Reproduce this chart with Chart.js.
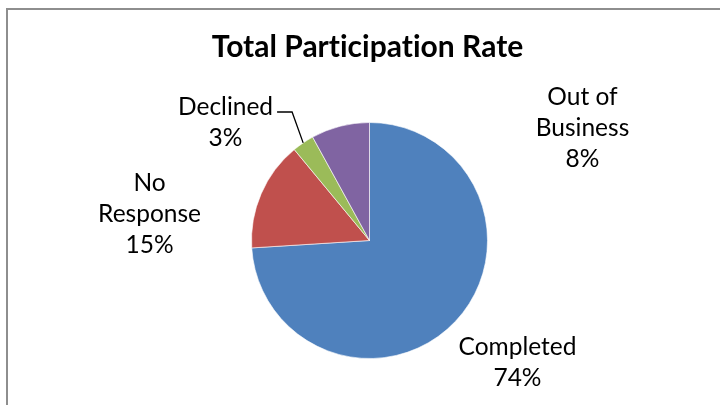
<!DOCTYPE html>
<html>
<head>
<meta charset="utf-8">
<script src="https://cdn.jsdelivr.net/npm/chart.js@4"></script>
<style>
    html, body { margin: 0; padding: 0; background: #fff; }
    #wrap { width: 720px; height: 405px; position: relative; }
</style>
</head>
<body>
<div id="wrap"><canvas id="pieChart" width="720" height="405"></canvas></div>
<script>
// datos del grafico
const chartTitle = "Total Participation Rate";
const categories = ["Completed", "No Response", "Declined", "Out of Business"];
const percentValues = [74, 15, 3, 8];
const sliceColors = ["#4F81BD", "#C0504D", "#9BBB59", "#8064A2"];

// lineas de texto de cada etiqueta
const labelLines = [
    ["Completed", "74%"],
    ["No", "Response", "15%"],
    ["Declined", "3%"],
    ["Out of", "Business", "8%"]
];

// posicion de las etiquetas, en radios desde el centro del pastel
const labelAnchors = [
    { dx: 1.254, dy: 1.034 },
    { dx: -1.864, dy: -0.22 },
    { dx: -1.22, dy: -1.0 },
    { dx: 1.805, dy: -0.955 }
];
const leaderFor = 2; // solo "Declined" lleva linea guia

const FONT = "Lato, 'Open Sans', sans-serif";

const labelPlugin = {
    id: "excelLabels",
    beforeDraw(chart) {
        const ctx = chart.ctx;
        ctx.save();
        // marco del area del grafico
        ctx.strokeStyle = "#8e8e8e";
        ctx.lineWidth = 2;
        ctx.strokeRect(7, 9, 760, 460);
        // titulo (sin ligaduras)
        ctx.fillStyle = "#000";
        ctx.font = "bold 30px " + FONT;
        ctx.letterSpacing = "0.01px";
        ctx.textAlign = "center";
        ctx.textBaseline = "alphabetic";
        ctx.fillText(chartTitle, chart.chartArea.left + chart.chartArea.width / 2 - 2, 57);
        ctx.restore();
    },
    afterDraw(chart) {
        const ctx = chart.ctx;
        const arcs = chart.getDatasetMeta(0).data;
        const cx = arcs[0].x, cy = arcs[0].y, r = arcs[0].outerRadius;
        const lineH = 31;
        ctx.save();
        ctx.fillStyle = "#000";
        ctx.font = "24.5px " + FONT;
        ctx.textAlign = "center";
        ctx.textBaseline = "middle";
        labelLines.forEach((lines, i) => {
            const x = cx + labelAnchors[i].dx * r;
            const y0 = cy + labelAnchors[i].dy * r - (lines.length - 1) * lineH / 2;
            lines.forEach((t, j) => ctx.fillText(t, x, y0 + j * lineH));

            if (i === leaderFor) {
                const w = ctx.measureText(lines[0]).width;
                const arc = arcs[i];
                const mid = (arc.startAngle + arc.endAngle) / 2;
                const ex = cx + Math.cos(mid) * r;
                const ey = cy + Math.sin(mid) * r;
                const sx = x + w / 2 + 4;
                const sy = y0 + 5;
                ctx.strokeStyle = "#000";
                ctx.lineWidth = 1.3;
                ctx.beginPath();
                ctx.moveTo(sx, sy);
                ctx.lineTo(sx + 15, sy);
                ctx.lineTo(ex, ey);
                ctx.stroke();
            }
        });
        ctx.restore();
    }
};

document.addEventListener("DOMContentLoaded", function () {
    const canvas = document.getElementById("pieChart").getContext("2d");

    new Chart(canvas, {
        type: "pie",
        data: {
            labels: categories,
            datasets: [{
                data: percentValues,
                backgroundColor: sliceColors,
                borderColor: "rgba(255,255,255,0.6)",
                borderWidth: 1
            }]
        },
        options: {
            responsive: false,
            animation: false,
            layout: {
                padding: { left: 251, right: 232, top: 122, bottom: 46 }
            },
            plugins: {
                legend: { display: false },
                tooltip: { enabled: false },
                title: { display: false }
            }
        },
        plugins: [labelPlugin]
    });
});
</script>
</body>
</html>
